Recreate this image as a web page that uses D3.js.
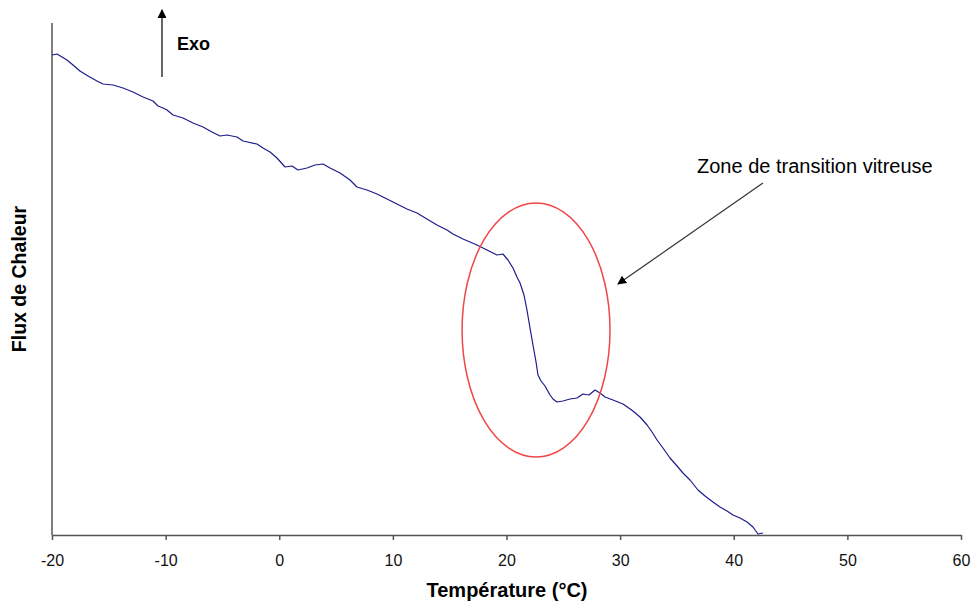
<!DOCTYPE html>
<html>
<head>
<meta charset="utf-8">
<script src="https://cdn.jsdelivr.net/npm/d3@7"></script>
<style>
  html, body { margin: 0; padding: 0; background: #fff; }
  svg { display: block; font-family: "Liberation Sans", Arial, sans-serif; }
</style>
</head>
<body>
<svg id="chart" width="973" height="605"></svg>
<script>
// Temperature (°C)
const temperature = [
  -20.00, -19.56, -19.12, -18.68, -18.15, -17.54, -16.83, -16.04, -15.51, -14.63,
  -13.75, -12.87, -11.99, -11.11, -10.67, -10.23, -9.88, -9.35, -8.47, -7.59,
  -6.71, -5.92, -5.21, -4.60, -3.72, -3.19, -1.96, -1.43, -0.81, -0.20,
  0.51, 1.12, 1.65, 2.44, 3.15, 3.85, 4.47, 5.35, 6.23, 6.84,
  7.72, 8.60, 9.13, 10.01, 11.24, 12.12, 13.00, 13.88, 14.76, 15.29,
  16.17, 17.40, 18.28, 19.16, 19.69, 20.13, 20.57, 20.92, 21.19, 21.54,
  21.80, 22.07, 22.33, 22.60, 22.77, 23.04, 23.39, 23.83, 24.09, 24.44,
  24.97, 25.59, 26.20, 26.73, 27.26, 27.79, 28.23, 28.67, 29.37, 30.25,
  31.13, 31.75, 32.37, 32.81, 33.25, 33.77, 34.39, 35.01, 35.53, 36.15,
  36.85, 37.47, 38.17, 38.79, 39.41, 39.93, 40.55, 41.17, 41.69, 42.13,
  42.57];
// Heat flow (arbitrary units, exo up)
const heatFlow = [
  480, 481, 478, 475, 470, 464, 459, 454, 451, 450,
  447, 443, 438, 434, 429, 427, 425, 420, 417, 412,
  408, 403, 399, 400, 398, 394, 391, 387, 383, 377,
  368, 369, 365, 367, 370, 371, 367, 362, 355, 348,
  345, 341, 338, 333, 326, 322, 316, 310, 305, 301,
  296, 290, 285, 280, 281, 275, 267, 258, 252, 240,
  225, 207, 190, 173, 160, 154, 149, 140, 136, 133,
  134, 136, 137, 141, 140, 145, 142, 138, 135, 131,
  124, 118, 110, 103, 95, 87, 77, 69, 62, 55,
  45, 39, 33, 28, 24, 20, 17, 13, 8, 1,
  2];
const xTicks = [-20, -10, 0, 10, 20, 30, 40, 50, 60];
const xTitle = "Température (°C)";
const yTitle = "Flux de Chaleur";
const exoLabel = "Exo";
const exoArrow = [[-10.32, 458], [-10.32, 525]];
const zoneLabel = "Zone de transition vitreuse";
const zoneArrow = [[42.57, 352], [29.81, 251]];
const zoneEllipse = { cx: 22.6, cy: 205, rx: 6.51, ry: 127 };

const data = temperature.map((t, i) => ({ t, v: heatFlow[i] }));

const svg = d3.select("#chart");
const x = d3.scaleLinear().domain([-20, 60]).range([52, 961]);
const y = d3.scaleLinear().domain([0, 512]).range([535, 23]);

svg.append("defs").append("marker")
  .attr("id", "head").attr("viewBox", "0 0 10 10")
  .attr("refX", 9).attr("refY", 5)
  .attr("markerWidth", 9).attr("markerHeight", 9)
  .attr("markerUnits", "userSpaceOnUse")
  .attr("orient", "auto")
  .append("path").attr("d", "M0,0 L10,5 L0,10 z").attr("fill", "#000");

// y axis (line only)
svg.append("line")
  .attr("x1", x(-20)).attr("x2", x(-20))
  .attr("y1", y(512)).attr("y2", y(0))
  .attr("stroke", "#555").attr("stroke-width", 1.5);

// x axis
const xAxis = d3.axisBottom(x).tickValues(xTicks).tickSize(5).tickSizeOuter(0).tickFormat(d3.format("d"));
const gx = svg.append("g").attr("transform", `translate(0,${y(0)})`).call(xAxis);
gx.select(".domain").attr("stroke", "#555").attr("stroke-width", 1.5);
gx.selectAll(".tick line").attr("stroke", "#555").attr("stroke-width", 1.5);
gx.selectAll(".tick text")
  .attr("y", 31).attr("dy", null)
  .attr("font-size", 16).attr("fill", "#111")
  .attr("font-family", "'Liberation Sans', Arial, sans-serif")
  .text(d => d < 0 ? "-" + Math.abs(d) : String(d));

// curve
svg.append("path")
  .datum(data)
  .attr("fill", "none")
  .attr("stroke", "#1c1c8c")
  .attr("stroke-width", 1.2)
  .attr("stroke-linejoin", "round")
  .attr("d", d3.line().x(d => x(d.t)).y(d => y(d.v)));

// ellipse
svg.append("ellipse")
  .attr("cx", x(zoneEllipse.cx)).attr("cy", y(zoneEllipse.cy))
  .attr("rx", x(zoneEllipse.cx + zoneEllipse.rx) - x(zoneEllipse.cx))
  .attr("ry", y(zoneEllipse.cy - zoneEllipse.ry) - y(zoneEllipse.cy))
  .attr("fill", "none").attr("stroke", "#f04848").attr("stroke-width", 1.5);

// zone arrow
svg.append("line")
  .attr("x1", x(zoneArrow[0][0])).attr("y1", y(zoneArrow[0][1]))
  .attr("x2", x(zoneArrow[1][0])).attr("y2", y(zoneArrow[1][1]))
  .attr("stroke", "#333").attr("stroke-width", 1.2)
  .attr("marker-end", "url(#head)");

svg.append("text")
  .attr("x", 697).attr("y", 173)
  .attr("font-size", 20).attr("fill", "#000")
  .text(zoneLabel);

// exo arrow
svg.append("line")
  .attr("x1", x(exoArrow[0][0])).attr("y1", y(exoArrow[0][1]))
  .attr("x2", x(exoArrow[1][0])).attr("y2", y(exoArrow[1][1]))
  .attr("stroke", "#000").attr("stroke-width", 1.2)
  .attr("marker-end", "url(#head)");

svg.append("text")
  .attr("x", 177).attr("y", 50)
  .attr("font-size", 18).attr("font-weight", "bold").attr("fill", "#000")
  .text(exoLabel);

// axis titles
svg.append("text")
  .attr("x", 507).attr("y", 597)
  .attr("text-anchor", "middle")
  .attr("font-size", 20).attr("font-weight", "bold").attr("fill", "#000")
  .text(xTitle);

svg.append("text")
  .attr("transform", "translate(26,279) rotate(-90)")
  .attr("text-anchor", "middle")
  .attr("font-size", 19.5).attr("font-weight", "bold").attr("fill", "#000")
  .text(yTitle);
</script>
</body>
</html>
